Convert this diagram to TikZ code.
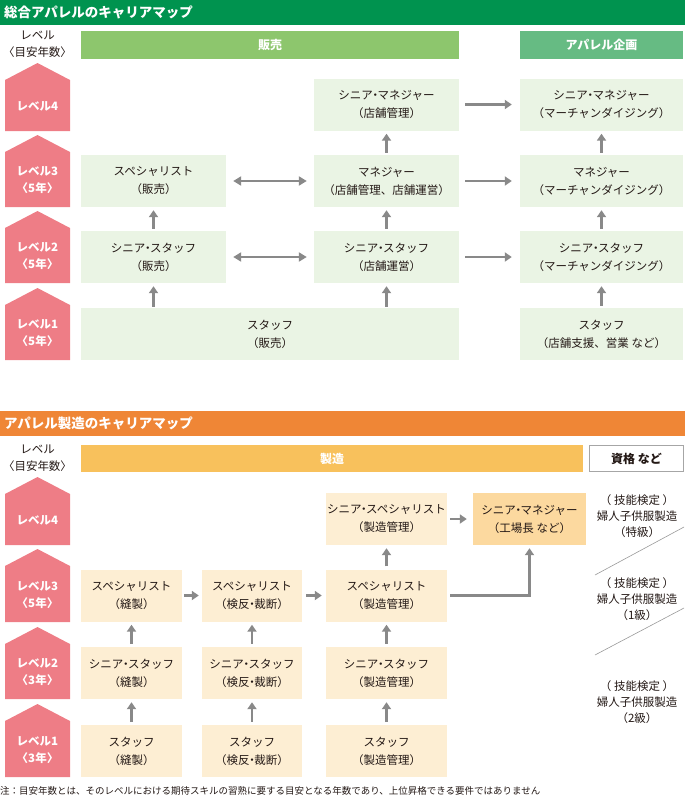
\documentclass[tikz,border=0pt]{standalone}
\usepackage{fontspec}
\setmainfont{Noto Sans CJK JP}
\usetikzlibrary{arrows.meta}
\definecolor{hdgreen}{HTML}{00934F}
\definecolor{hdorange}{HTML}{EF8636}
\definecolor{barsales}{HTML}{8DC66D}
\definecolor{barplan}{HTML}{66BB83}
\definecolor{barmake}{HTML}{F8C15C}
\definecolor{boxgreen}{HTML}{EAF4E4}
\definecolor{boxcream}{HTML}{FDEED3}
\definecolor{boxpeach}{HTML}{FCD99F}
\definecolor{lvpink}{HTML}{EE7D86}
\definecolor{arrgray}{HTML}{898989}
\definecolor{txtdark}{HTML}{231815}
\newcommand{\mdot}{\kern-0.3em・\kern-0.3em}
\begin{document}
\begin{tikzpicture}[x=1pt,y=-1pt,
  hd/.style={minimum width=685pt,minimum height=25pt,text width=677pt,align=left,anchor=north west,inner sep=4pt,text=white,font=\fontsize{13.5}{13.5}\selectfont\bfseries},
  bar/.style={minimum height=28pt,inner sep=0pt,text=white,font=\fontsize{12}{12}\selectfont\bfseries},
  box/.style={minimum height=52pt,inner sep=0pt,align=center,text=txtdark,font=\fontsize{11.5}{18}\selectfont},
  lbl/.style={align=center,inner sep=0pt,text=txtdark,font=\fontsize{11.5}{17}\selectfont},
  lvtext/.style={align=center,inner sep=0pt,text=white,font=\fontsize{11.5}{17}\selectfont\bfseries},
  arr/.style={draw=arrgray,line width=2.8pt,-{Triangle[length=7pt,width=9pt]}},
  darr/.style={draw=arrgray,line width=2.8pt,{Triangle[length=8pt,width=9pt]}-{Triangle[length=8pt,width=9pt]}}]
\useasboundingbox (0,0) rectangle (685,798);

% --- 総合アパレル
\node[hd,fill=hdgreen] (a-title) at (0,0) {総合アパレルのキャリアマップ};
\node[lbl] (a-head) at (37.5,44) {レベル\\〈目安年数〉};
\node[bar,fill=barsales,minimum width=378pt] (a-sales) at (270,45) {販売};
\node[bar,fill=barplan,minimum width=163pt] (a-plan) at (601.5,45) {アパレル企画};
\foreach \n/\yt/\yb/\lab in {4/63/131/{レベル4},3/135/207/{レベル3\\〈5年〉},2/211/283/{レベル2\\〈5年〉},1/288/360/{レベル1\\〈5年〉}}{
  \fill[lvpink] (5,\yb) -- (5,\yt+17) -- (37.5,\yt) -- (70,\yt+17) -- (70,\yb) -- cycle;
  \node[lvtext] (a-lv\n) at (37.5,{(\yt+17+\yb)/2+1}) {\lab};
}
\begin{scope}[every node/.style={box,fill=boxgreen}]
\node[minimum width=145pt] (a-m4) at (386.5,104.5) {シニア\mdot マネジャー\\（店舗管理）};
\node[minimum width=163pt] (a-p4) at (601.5,104.5) {シニア\mdot マネジャー\\（マーチャンダイジング）};
\node[minimum width=145pt] (a-s3) at (153.5,181) {スペシャリスト\\（販売）};
\node[minimum width=145pt] (a-m3) at (386.5,181) {マネジャー\\（店舗管理、店舗運営）};
\node[minimum width=163pt] (a-p3) at (601.5,181) {マネジャー\\（マーチャンダイジング）};
\node[minimum width=145pt] (a-s2) at (153.5,257) {シニア\mdot スタッフ\\（販売）};
\node[minimum width=145pt] (a-m2) at (386.5,257) {シニア\mdot スタッフ\\（店舗運営）};
\node[minimum width=163pt] (a-p2) at (601.5,257) {シニア\mdot スタッフ\\（マーチャンダイジング）};
\node[minimum width=378pt] (a-s1) at (270,334) {スタッフ\\（販売）};
\node[minimum width=163pt] (a-p1) at (601.5,334) {スタッフ\\（店舗支援、営業 など）};
\end{scope}
\draw[darr,shorten <=7pt,shorten >=7pt] (a-s3) -- (a-m3);
\draw[darr,shorten <=7pt,shorten >=7pt] (a-s2) -- (a-m2);
\foreach \r in {4,3,2}
  \draw[arr,shorten <=6pt,shorten >=8pt] (a-m\r) -- (a-p\r);
\draw[arr,shorten <=2pt,shorten >=3pt] (a-s2) -- (a-s3);
\draw[arr,shorten <=2pt,shorten >=3pt] (a-m3) -- (a-m4);
\draw[arr,shorten <=2pt,shorten >=3pt] (a-m2) -- (a-m3);
\draw[arr,shorten <=2pt,shorten >=3pt] (a-p3) -- (a-p4);
\draw[arr,shorten <=2pt,shorten >=3pt] (a-p2) -- (a-p3);
\draw[arr,shorten <=2pt,shorten >=3pt] (a-p1) -- (a-p2);
\draw[arr,shorten <=1pt,shorten >=3pt] (a-s1.north -| a-s2) -- (a-s2);
\draw[arr,shorten <=1pt,shorten >=3pt] (a-s1.north -| a-m2) -- (a-m2);

% --- アパレル製造
\node[hd,fill=hdorange] (b-title) at (0,411) {アパレル製造のキャリアマップ};
\node[lbl] (b-head) at (37.5,458.5) {レベル\\〈目安年数〉};
\node[bar,fill=barmake,minimum width=502pt,minimum height=27pt] (b-make) at (332,458.5) {製造};
\node[bar,draw=gray!70,line width=0.8pt,fill=white,text=txtdark,minimum width=94pt,minimum height=26pt] (b-qual) at (636.5,458.5) {資格 など};
\foreach \n/\yt/\yb/\lab in {4/477/545/{レベル4},3/549/622/{レベル3\\〈5年〉},2/627/699/{レベル2\\〈3年〉},1/704/777/{レベル1\\〈3年〉}}{
  \fill[lvpink] (5,\yb) -- (5,\yt+17) -- (37.5,\yt) -- (70,\yt+17) -- (70,\yb) -- cycle;
  \node[lvtext] (b-lv\n) at (37.5,{(\yt+17+\yb)/2+1}) {\lab};
}
\begin{scope}[every node/.style={box,fill=boxcream}]
\node[minimum width=121pt] (b-c4) at (386.5,519) {シニア\mdot スペシャリスト\\（製造管理）};
\node[minimum width=113pt,fill=boxpeach] (b-g4) at (529.5,519) {シニア\mdot マネジャー\\（工場長 など）};
\node[minimum width=101pt] (b-a3) at (131.5,595.5) {スペシャリスト\\（縫製）};
\node[minimum width=100pt] (b-b3) at (252,595.5) {スペシャリスト\\（検反\mdot 裁断）};
\node[minimum width=121pt] (b-c3) at (386.5,595.5) {スペシャリスト\\（製造管理）};
\node[minimum width=101pt] (b-a2) at (131.5,673) {シニア\mdot スタッフ\\（縫製）};
\node[minimum width=100pt] (b-b2) at (252,673) {シニア\mdot スタッフ\\（検反\mdot 裁断）};
\node[minimum width=121pt] (b-c2) at (386.5,673) {シニア\mdot スタッフ\\（製造管理）};
\node[minimum width=101pt] (b-a1) at (131.5,751) {スタッフ\\（縫製）};
\node[minimum width=100pt] (b-b1) at (252,751) {スタッフ\\（検反\mdot 裁断）};
\node[minimum width=121pt] (b-c1) at (386.5,751) {スタッフ\\（製造管理）};
\end{scope}
\draw[arr,shorten <=2pt,shorten >=3pt] (b-a3) -- (b-b3);
\draw[arr,shorten <=4pt,shorten >=4pt] (b-b3) -- (b-c3);
\draw[arr,shorten <=3pt,shorten >=6pt] (b-c4) -- (b-g4);
\foreach \c in {a,b,c}{
  \draw[arr,shorten <=3pt,shorten >=3pt] (b-\c1) -- (b-\c2);
  \draw[arr,shorten <=3pt,shorten >=3pt] (b-\c2) -- (b-\c3);
}
\draw[arr,shorten <=3pt,shorten >=3pt] (b-c3) -- (b-c4);
\draw[arr,line width=2.2pt,shorten <=3pt,shorten >=3pt] (b-c3.east) -| (b-g4.south);

\begin{scope}[every node/.style={lbl,font=\fontsize{11.5}{16}\selectfont}]
\node (b-q4) at (637,516) {（ 技能検定 ）\\婦人子供服製造\\（特級）};
\node (b-q3) at (637,599) {（ 技能検定 ）\\婦人子供服製造\\（1級）};
\node (b-q2) at (637,702) {（ 技能検定 ）\\婦人子供服製造\\（2級）};
\end{scope}
\draw[gray!80,line width=0.6pt] (595,575) -- (684,527);
\draw[gray!80,line width=0.6pt] (595,655) -- (684,608);

\node[anchor=west,inner sep=0pt,text=txtdark,font=\fontsize{9.5}{10}\selectfont] (note) at (0,791) {注：目安年数とは、そのレベルにおける期待スキルの習熟に要する目安となる年数であり、上位昇格できる要件ではありません};
\end{tikzpicture}
\end{document}
